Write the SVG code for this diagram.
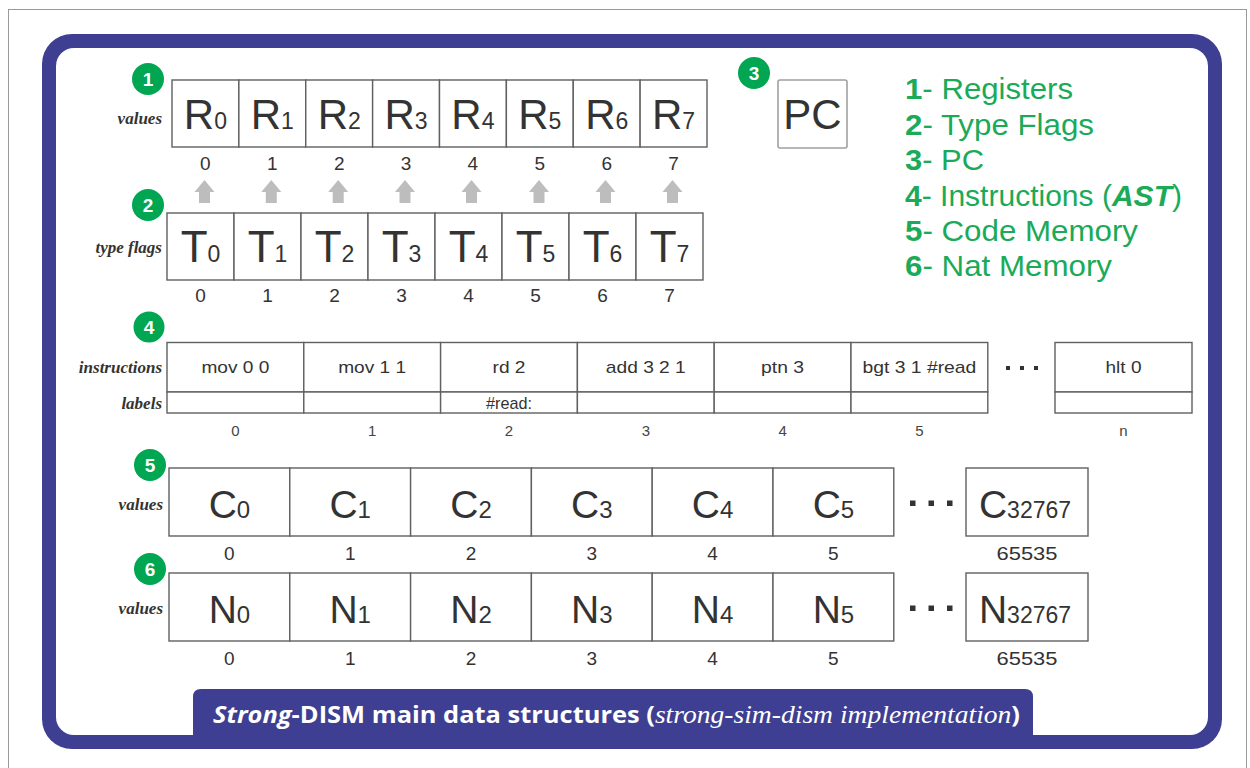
<svg xmlns="http://www.w3.org/2000/svg" width="1250" height="768" viewBox="0 0 1250 768">
<style>
.cell{fill:#fff;stroke:#606060;stroke-width:1.4}
.big{font-family:"Liberation Sans",Arial,sans-serif;fill:#333;text-anchor:middle}
.idx{font-family:"Liberation Sans",Arial,sans-serif;fill:#333;text-anchor:middle;font-size:19px}
.ins{font-family:"Liberation Sans",Arial,sans-serif;fill:#333;text-anchor:middle;font-size:17px}
.sidx{font-family:"Liberation Sans",Arial,sans-serif;fill:#444;text-anchor:middle;font-size:15px}
.lbl{font-family:"Liberation Serif","Times New Roman",serif;font-style:italic;font-weight:bold;fill:#333;text-anchor:end;font-size:17px}
.badge{fill:#00a651}
.bnum{font-family:"Liberation Sans",Arial,sans-serif;font-weight:bold;fill:#fff;font-size:19px;text-anchor:middle}
.leg{font-family:"Liberation Sans",Arial,sans-serif;fill:#1aaa58;font-size:29px}
.arrow{fill:#bdbdbd}
.dot{fill:#333}
</style>
<defs>
<path id="uparrow" d="M0,-12 L10,0 L5.5,0 L5.5,11 L-5.5,11 L-5.5,0 L-10,0 Z"/>
</defs>
<rect x="8.5" y="9.5" width="1238" height="775" fill="#fff" stroke="#9a9a9a" stroke-width="1"/>
<g id="frame">
<rect x="42" y="34" width="1180" height="715" rx="30" fill="#3e3f92"/>
<rect x="56" y="48" width="1152" height="687" rx="18" fill="#fff"/>
</g>
<g id="badges">
<circle class="badge" cx="148" cy="79" r="16"/><text class="bnum" x="148" y="86">1</text>
<circle class="badge" cx="148" cy="205" r="16"/><text class="bnum" x="148" y="212">2</text>
<circle class="badge" cx="754" cy="73" r="16"/><text class="bnum" x="754" y="80">3</text>
<circle class="badge" cx="149" cy="327" r="15.5"/><text class="bnum" x="149" y="334">4</text>
<circle class="badge" cx="150" cy="465" r="16"/><text class="bnum" x="150" y="472">5</text>
<circle class="badge" cx="150" cy="569" r="16"/><text class="bnum" x="150" y="576">6</text>
</g>
<g id="registers">
<text class="lbl" x="162" y="124">values</text>
<rect class="cell" x="172" y="80" width="66.875" height="67"/>
<rect class="cell" x="238.875" y="80" width="66.875" height="67"/>
<rect class="cell" x="305.75" y="80" width="66.875" height="67"/>
<rect class="cell" x="372.625" y="80" width="66.875" height="67"/>
<rect class="cell" x="439.5" y="80" width="66.875" height="67"/>
<rect class="cell" x="506.375" y="80" width="66.875" height="67"/>
<rect class="cell" x="573.25" y="80" width="66.875" height="67"/>
<rect class="cell" x="640.125" y="80" width="66.875" height="67"/>
<g class="big" font-size="42">
<text x="205.4" y="129">R<tspan font-size="23">0</tspan></text>
<text x="272.3" y="129">R<tspan font-size="23">1</tspan></text>
<text x="339.2" y="129">R<tspan font-size="23">2</tspan></text>
<text x="406.1" y="129">R<tspan font-size="23">3</tspan></text>
<text x="472.9" y="129">R<tspan font-size="23">4</tspan></text>
<text x="539.8" y="129">R<tspan font-size="23">5</tspan></text>
<text x="606.7" y="129">R<tspan font-size="23">6</tspan></text>
<text x="673.6" y="129">R<tspan font-size="23">7</tspan></text>
</g>
<text class="idx" x="205.4" y="170">0</text>
<text class="idx" x="272.3" y="170">1</text>
<text class="idx" x="339.2" y="170">2</text>
<text class="idx" x="406.1" y="170">3</text>
<text class="idx" x="472.9" y="170">4</text>
<text class="idx" x="539.8" y="170">5</text>
<text class="idx" x="606.7" y="170">6</text>
<text class="idx" x="673.6" y="170">7</text>
</g>
<g id="connectors">
<use href="#uparrow" class="arrow" x="204.5" y="192"/>
<use href="#uparrow" class="arrow" x="271.3" y="192"/>
<use href="#uparrow" class="arrow" x="338.2" y="192"/>
<use href="#uparrow" class="arrow" x="405" y="192"/>
<use href="#uparrow" class="arrow" x="471.5" y="192"/>
<use href="#uparrow" class="arrow" x="539" y="192"/>
<use href="#uparrow" class="arrow" x="605.5" y="192"/>
<use href="#uparrow" class="arrow" x="672.5" y="192"/>
</g>
<g id="typeflags">
<text class="lbl" x="162" y="253">type flags</text>
<rect class="cell" x="167" y="213" width="67" height="67"/>
<rect class="cell" x="234" y="213" width="67" height="67"/>
<rect class="cell" x="301" y="213" width="67" height="67"/>
<rect class="cell" x="368" y="213" width="67" height="67"/>
<rect class="cell" x="435" y="213" width="67" height="67"/>
<rect class="cell" x="502" y="213" width="67" height="67"/>
<rect class="cell" x="569" y="213" width="67" height="67"/>
<rect class="cell" x="636" y="213" width="67" height="67"/>
<g class="big" font-size="44">
<text x="200.5" y="262">T<tspan font-size="23">0</tspan></text>
<text x="267.5" y="262">T<tspan font-size="23">1</tspan></text>
<text x="334.5" y="262">T<tspan font-size="23">2</tspan></text>
<text x="401.5" y="262">T<tspan font-size="23">3</tspan></text>
<text x="468.5" y="262">T<tspan font-size="23">4</tspan></text>
<text x="535.5" y="262">T<tspan font-size="23">5</tspan></text>
<text x="602.5" y="262">T<tspan font-size="23">6</tspan></text>
<text x="669.5" y="262">T<tspan font-size="23">7</tspan></text>
</g>
<text class="idx" x="200.5" y="302">0</text>
<text class="idx" x="267.5" y="302">1</text>
<text class="idx" x="334.5" y="302">2</text>
<text class="idx" x="401.5" y="302">3</text>
<text class="idx" x="468.5" y="302">4</text>
<text class="idx" x="535.5" y="302">5</text>
<text class="idx" x="602.5" y="302">6</text>
<text class="idx" x="669.5" y="302">7</text>
</g>
<g id="pc">
<rect x="778" y="80" width="69" height="68" rx="2" fill="#fff" stroke="#a0a0a0" stroke-width="1.6"/>
<text class="big" x="812.5" y="129" font-size="42">PC</text>
</g>
<g id="legend">
<text class="leg" x="905" y="99" textLength="168" lengthAdjust="spacingAndGlyphs"><tspan font-weight="bold">1</tspan>- Registers</text>
<text class="leg" x="905" y="134.5" textLength="189" lengthAdjust="spacingAndGlyphs"><tspan font-weight="bold">2</tspan>- Type Flags</text>
<text class="leg" x="905" y="170" textLength="79" lengthAdjust="spacingAndGlyphs"><tspan font-weight="bold">3</tspan>- PC</text>
<text class="leg" x="905" y="205.5" textLength="277" lengthAdjust="spacingAndGlyphs"><tspan font-weight="bold">4</tspan>- Instructions (<tspan font-weight="bold" font-style="italic">AST</tspan>)</text>
<text class="leg" x="905" y="241" textLength="233" lengthAdjust="spacingAndGlyphs"><tspan font-weight="bold">5</tspan>- Code Memory</text>
<text class="leg" x="905" y="276" textLength="207" lengthAdjust="spacingAndGlyphs"><tspan font-weight="bold">6</tspan>- Nat Memory</text>
</g>
<g id="instructions">
<text class="lbl" x="162" y="373">instructions</text>
<text class="lbl" x="162" y="409">labels</text>
<rect class="cell" x="167" y="342.5" width="136.8" height="49.5"/>
<rect class="cell" x="303.8" y="342.5" width="136.8" height="49.5"/>
<rect class="cell" x="440.6" y="342.5" width="136.8" height="49.5"/>
<rect class="cell" x="577.4" y="342.5" width="136.8" height="49.5"/>
<rect class="cell" x="714.2" y="342.5" width="136.8" height="49.5"/>
<rect class="cell" x="851" y="342.5" width="136.8" height="49.5"/>
<rect class="cell" x="167" y="392" width="136.8" height="21"/>
<rect class="cell" x="303.8" y="392" width="136.8" height="21"/>
<rect class="cell" x="440.6" y="392" width="136.8" height="21"/>
<rect class="cell" x="577.4" y="392" width="136.8" height="21"/>
<rect class="cell" x="714.2" y="392" width="136.8" height="21"/>
<rect class="cell" x="851" y="392" width="136.8" height="21"/>
<rect class="cell" x="1055" y="342.5" width="137" height="49.5"/>
<rect class="cell" x="1055" y="392" width="137" height="21"/>
<text class="ins" x="235.4" y="373" textLength="68" lengthAdjust="spacingAndGlyphs">mov 0 0</text>
<text class="ins" x="372.2" y="373" textLength="68" lengthAdjust="spacingAndGlyphs">mov 1 1</text>
<text class="ins" x="509" y="373" textLength="33" lengthAdjust="spacingAndGlyphs">rd 2</text>
<text class="ins" x="645.8" y="373" textLength="80" lengthAdjust="spacingAndGlyphs">add 3 2 1</text>
<text class="ins" x="782.6" y="373" textLength="43" lengthAdjust="spacingAndGlyphs">ptn 3</text>
<text class="ins" x="919.4" y="373" textLength="114" lengthAdjust="spacingAndGlyphs">bgt 3 1 #read</text>
<text class="ins" x="1123.5" y="373" textLength="36" lengthAdjust="spacingAndGlyphs">hlt 0</text>
<text class="ins" x="509" y="408.5" font-size="14" textLength="46" lengthAdjust="spacingAndGlyphs">#read:</text>
<rect class="dot" x="1006" y="366" width="4" height="4"/>
<rect class="dot" x="1020" y="366" width="4" height="4"/>
<rect class="dot" x="1034" y="366" width="4" height="4"/>
<text class="sidx" x="235.4" y="436">0</text>
<text class="sidx" x="372.2" y="436">1</text>
<text class="sidx" x="509" y="436">2</text>
<text class="sidx" x="645.8" y="436">3</text>
<text class="sidx" x="782.6" y="436">4</text>
<text class="sidx" x="919.4" y="436">5</text>
<text class="sidx" x="1123.5" y="436">n</text>
</g>
<g id="codememory">
<text class="lbl" x="163" y="510">values</text>
<rect class="cell" x="169" y="468" width="120.8" height="68"/>
<rect class="cell" x="289.8" y="468" width="120.8" height="68"/>
<rect class="cell" x="410.6" y="468" width="120.8" height="68"/>
<rect class="cell" x="531.4" y="468" width="120.8" height="68"/>
<rect class="cell" x="652.2" y="468" width="120.8" height="68"/>
<rect class="cell" x="773" y="468" width="120.8" height="68"/>
<rect class="cell" x="966" y="468" width="122" height="68"/>
<g class="big" font-size="39">
<text x="229.4" y="518">C<tspan font-size="24">0</tspan></text>
<text x="350.2" y="518">C<tspan font-size="24">1</tspan></text>
<text x="471" y="518">C<tspan font-size="24">2</tspan></text>
<text x="591.8" y="518">C<tspan font-size="24">3</tspan></text>
<text x="712.6" y="518">C<tspan font-size="24">4</tspan></text>
<text x="833.4" y="518">C<tspan font-size="24">5</tspan></text>
<text x="1025" y="518">C<tspan font-size="23">32767</tspan></text>
</g>
<rect class="dot" x="910" y="500.5" width="5.5" height="5.5"/>
<rect class="dot" x="928.5" y="500.5" width="5.5" height="5.5"/>
<rect class="dot" x="947" y="500.5" width="5.5" height="5.5"/>
<text class="idx" x="229.4" y="560">0</text>
<text class="idx" x="350.2" y="560">1</text>
<text class="idx" x="471" y="560">2</text>
<text class="idx" x="591.8" y="560">3</text>
<text class="idx" x="712.6" y="560">4</text>
<text class="idx" x="833.4" y="560">5</text>
<text class="idx" x="1027" y="560" textLength="61" lengthAdjust="spacingAndGlyphs">65535</text>
</g>
<g id="natmemory">
<text class="lbl" x="163" y="614">values</text>
<rect class="cell" x="169" y="573" width="120.8" height="68"/>
<rect class="cell" x="289.8" y="573" width="120.8" height="68"/>
<rect class="cell" x="410.6" y="573" width="120.8" height="68"/>
<rect class="cell" x="531.4" y="573" width="120.8" height="68"/>
<rect class="cell" x="652.2" y="573" width="120.8" height="68"/>
<rect class="cell" x="773" y="573" width="120.8" height="68"/>
<rect class="cell" x="966" y="573" width="122" height="68"/>
<g class="big" font-size="39">
<text x="229.4" y="623">N<tspan font-size="24">0</tspan></text>
<text x="350.2" y="623">N<tspan font-size="24">1</tspan></text>
<text x="471" y="623">N<tspan font-size="24">2</tspan></text>
<text x="591.8" y="623">N<tspan font-size="24">3</tspan></text>
<text x="712.6" y="623">N<tspan font-size="24">4</tspan></text>
<text x="833.4" y="623">N<tspan font-size="24">5</tspan></text>
<text x="1025" y="623">N<tspan font-size="23">32767</tspan></text>
</g>
<rect class="dot" x="910" y="605.5" width="5.5" height="5.5"/>
<rect class="dot" x="928.5" y="605.5" width="5.5" height="5.5"/>
<rect class="dot" x="947" y="605.5" width="5.5" height="5.5"/>
<text class="idx" x="229.4" y="665">0</text>
<text class="idx" x="350.2" y="665">1</text>
<text class="idx" x="471" y="665">2</text>
<text class="idx" x="591.8" y="665">3</text>
<text class="idx" x="712.6" y="665">4</text>
<text class="idx" x="833.4" y="665">5</text>
<text class="idx" x="1027" y="665" textLength="61" lengthAdjust="spacingAndGlyphs">65535</text>
</g>
<g id="title">
<path d="M193,737 V697 Q193,689 201,689 H1025 Q1033,689 1033,697 V737 Z" fill="#3e3f92"/>
<text x="213" y="723" font-family="'Open Sans','Liberation Sans',sans-serif" font-size="24" font-weight="bold" fill="#fff" textLength="807" lengthAdjust="spacingAndGlyphs"><tspan font-style="italic">Strong</tspan>-DISM main data structures (<tspan font-family="'Liberation Serif',serif" font-style="italic" font-weight="normal" font-size="26">strong-sim-dism implementation</tspan>)</text>
</g>
</svg>
